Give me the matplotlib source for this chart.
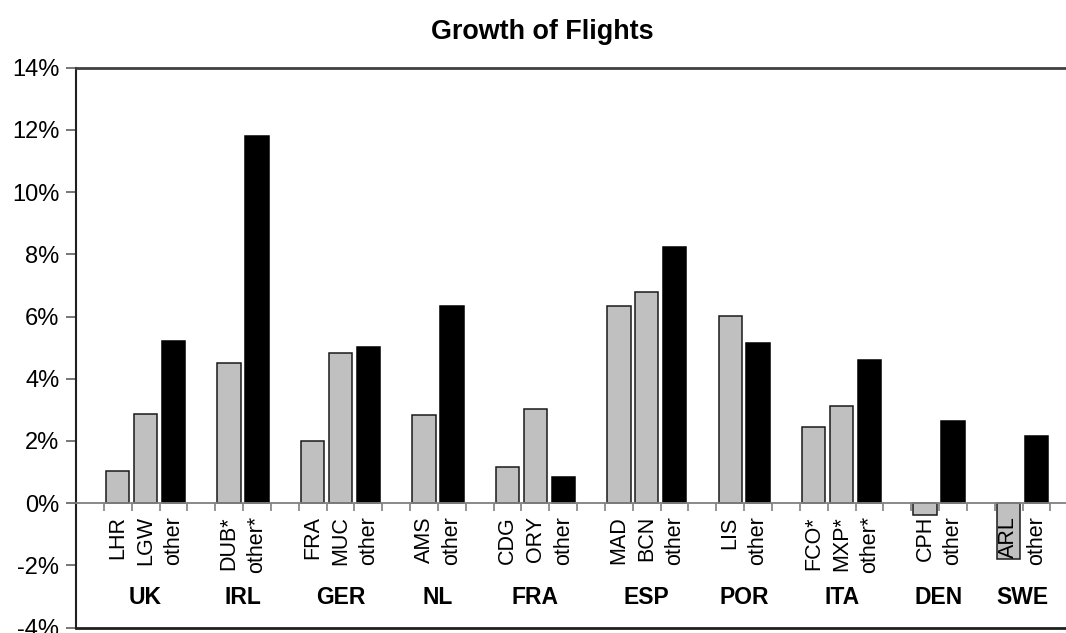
import matplotlib
matplotlib.use("Agg")
import matplotlib.pyplot as plt
import numpy as np

plt.rcParams['font.family'] = ['Liberation Sans', 'DejaVu Sans']

# Country groups, their airport labels and growth values (%)
countries = ["UK", "IRL", "GER", "NL", "FRA", "ESP", "POR", "ITA", "DEN", "SWE"]
airport_labels = [
    ["LHR", "LGW", "other"],
    ["DUB*", "other*"],
    ["FRA", "MUC", "other"],
    ["AMS", "other"],
    ["CDG", "ORY", "other"],
    ["MAD", "BCN", "other"],
    ["LIS", "other"],
    ["FCO*", "MXP*", "other*"],
    ["CPH", "other"],
    ["ARL", "other"],
]
growth = [
    [1.04, 2.85, 5.20],
    [4.50, 11.80],
    [1.99, 4.82, 5.01],
    [2.82, 6.33],
    [1.17, 3.04, 0.85],
    [6.33, 6.78, 8.22],
    [6.02, 5.15],
    [2.46, 3.13, 4.61],
    [-0.39, 2.65],
    [-1.80, 2.16],
]
y_ticks = [-4, -2, 0, 2, 4, 6, 8, 10, 12, 14]

W, H = 1066, 633
fig = plt.figure(figsize=(W / 100, H / 100), dpi=100)

# plot area: left edge at 76 px, 36 category slots of ~27.84 px each
slot_px = 27.84
n_slots = 36
left_px, top_px, bottom_px = 76, 67.7, 627.5
ax = fig.add_axes([left_px / W, 1 - bottom_px / H,
                   n_slots * slot_px / W, (bottom_px - top_px) / H])

gray = "#c0c0c0"
slot = 1
group_centres = []
for labels, vals in zip(airport_labels, growth):
    xs = []
    for lab, v in zip(labels, vals):
        is_other = lab.startswith("other")
        ax.bar(slot, v, width=0.84,
               color="black" if is_other else gray,
               edgecolor="black" if is_other else "#1a1a1a",
               linewidth=1.1, zorder=2)
        ax.text(slot, -0.42, lab, rotation=90, ha="center", va="top",
                fontsize=15.5, zorder=4)
        xs.append(slot)
        slot += 1
    group_centres.append(np.mean(xs))
    slot += 1

for c, name in zip(group_centres, countries):
    ax.text(c, -3.02, name, ha="center", va="center", fontsize=16.5,
            fontweight="bold", zorder=4)

ax.set_xlim(-0.5, n_slots - 0.5)
ax.set_ylim(-4, 14)

# category axis along the zero line, ticks between categories
ax.spines["bottom"].set_position(("data", 0))
ax.spines["bottom"].set_color("#808080")
ax.spines["bottom"].set_linewidth(1.3)
ax.spines["bottom"].set_zorder(3)
ax.set_xticks(np.arange(-0.5, n_slots, 1.0))
ax.set_xticklabels([])
ax.tick_params(axis="x", direction="out", length=6, width=1.2, color="#808080")

# frame of the plot area
ax.spines["top"].set_color("#404040")
ax.spines["top"].set_linewidth(2.0)
ax.spines["left"].set_color("#202020")
ax.spines["left"].set_linewidth(1.5)
ax.spines["right"].set_visible(False)
ax.axhline(-4, color="#202020", linewidth=2.0, clip_on=False, zorder=3)

ax.set_yticks(y_ticks)
ax.set_yticklabels([f"{t}%" for t in y_ticks], fontsize=17)
ax.tick_params(axis="y", direction="out", length=7, width=1.2,
               color="#606060", pad=5)

fig.text(0.509, 0.949, "Growth of Flights", ha="center", va="center",
         fontsize=19.4, fontweight="bold")

fig.savefig("out.png", dpi=100)
